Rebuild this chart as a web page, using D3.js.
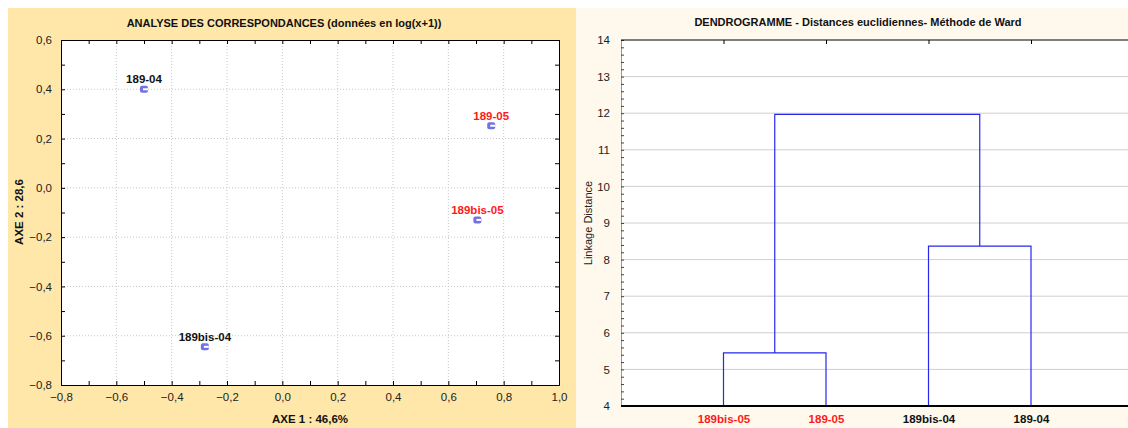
<!DOCTYPE html>
<html lang="fr">
<head>
<meta charset="UTF-8">
<script src="https://d3js.org/d3.v7.min.js"></script>
<title>AFC et dendrogramme</title>
<style>
  body { margin: 0; background: #fff; font-family: Arial, "Liberation Sans", sans-serif; }
  svg text { font-family: Arial, "Liberation Sans", sans-serif; }
</style>
</head>
<body>
<svg id="chart" width="1128" height="428"></svg>
<script>
// --- données AFC ---
const caNames = ["189-04", "189-05", "189bis-05", "189bis-04"];
const axe1 = [-0.50, 0.755, 0.705, -0.28];
const axe2 = [0.40, 0.252, -0.13, -0.645];
const highlighted = ["189-05", "189bis-05"];
const xTicks = [-0.8, -0.6, -0.4, -0.2, 0.0, 0.2, 0.4, 0.6, 0.8, 1.0];
const yTicks = [-0.8, -0.6, -0.4, -0.2, 0.0, 0.2, 0.4, 0.6];

// --- données dendrogramme ---
const leaves = ["189bis-05", "189-05", "189bis-04", "189-04"];
// fusions : enfants (nom de feuille ou index de fusion) et hauteur
const mergeLeft = ["189bis-05", "189bis-04", 0];
const mergeRight = ["189-05", "189-04", 1];
const mergeHeight = [5.45, 8.37, 11.97];
const distTicks = [4, 5, 6, 7, 8, 9, 10, 11, 12, 13, 14];

const svg = d3.select("#chart");
const fmt = v => d3.format(".1f")(Math.abs(v) < 1e-9 ? 0 : v).replace(".", ",");

// fonds des deux panneaux
svg.append("rect").attr("x", 8).attr("y", 8).attr("width", 568).attr("height", 420).attr("fill", "#fee7a9");
svg.append("rect").attr("x", 576).attr("y", 8).attr("width", 552).attr("height", 420).attr("fill", "#fff9ed");

// ================= AFC =================
const x = d3.scaleLinear().domain([-0.8, 1.0]).range([61, 559]);
const y = d3.scaleLinear().domain([-0.8, 0.6]).range([385, 40]);

const left = svg.append("g");
left.append("rect").attr("x", 62).attr("y", 41).attr("width", x(1.0) - x(-0.8)).attr("height", y(-0.8) - y(0.6))
    .attr("fill", "#9a9a9a");
left.append("rect").attr("x", x(-0.8)).attr("y", y(0.6)).attr("width", x(1.0) - x(-0.8)).attr("height", y(-0.8) - y(0.6))
    .attr("fill", "#fff");

// grille pointillée
left.append("g").selectAll("line").data(xTicks.slice(1, -1)).join("line")
    .attr("x1", d => x(d)).attr("x2", d => x(d)).attr("y1", y(0.6)).attr("y2", y(-0.8))
    .attr("stroke", "#c8c8c8").attr("stroke-dasharray", "1,2");
left.append("g").selectAll("line").data(yTicks.slice(1, -1)).join("line")
    .attr("y1", d => y(d)).attr("y2", d => y(d)).attr("x1", x(-0.8)).attr("x2", x(1.0))
    .attr("stroke", "#c8c8c8").attr("stroke-dasharray", "1,2");

const minorX = d3.range(-8, 11).map(i => i / 10);
const minorY = d3.range(-8, 7).map(i => i / 10);
const isMajor = v => Math.abs(Math.round(v * 10)) % 2 === 0;

function styleAxis(g) {
  g.select(".domain").attr("stroke", "#000");
  g.selectAll(".tick line").attr("stroke", "#000");
  g.selectAll(".tick text").attr("fill", "#222").attr("font-size", 11.5);
}

left.append("g").attr("transform", `translate(0,${y(-0.8)})`)
    .call(d3.axisBottom(x).tickValues(minorX).tickSizeInner(-4).tickSizeOuter(0).tickPadding(8)
      .tickFormat(d => isMajor(d) ? fmt(d) : ""))
    .call(styleAxis);
left.append("g").attr("transform", `translate(0,${y(0.6)})`)
    .call(d3.axisTop(x).tickValues(minorX).tickSizeInner(-4).tickSizeOuter(0).tickFormat(""))
    .call(styleAxis);
left.append("g").attr("transform", `translate(${x(-0.8)},0)`)
    .call(d3.axisLeft(y).tickValues(minorY).tickSizeInner(-4).tickSizeOuter(0).tickPadding(9)
      .tickFormat(d => isMajor(d) ? fmt(d) : ""))
    .call(styleAxis);
left.append("g").attr("transform", `translate(${x(1.0)},0)`)
    .call(d3.axisRight(y).tickValues(minorY).tickSizeInner(-4).tickSizeOuter(0).tickFormat(""))
    .call(styleAxis);

// points
const pts = left.append("g").selectAll("g").data(caNames).join("g")
    .attr("transform", (d, i) => `translate(${x(axe1[i])},${y(axe2[i])})`);
pts.append("rect").attr("x", -4).attr("y", -3.5).attr("width", 8).attr("height", 7).attr("rx", 2)
    .attr("fill", "#7272e4");
pts.append("rect").attr("x", -1).attr("y", -1).attr("width", 5).attr("height", 2).attr("fill", "#fff");
pts.append("text").attr("y", -6).attr("text-anchor", "middle")
    .attr("font-size", 11.5).attr("font-weight", "bold")
    .attr("fill", d => highlighted.includes(d) ? "#ff1a1a" : "#111")
    .text(d => d);

left.append("text").attr("x", 284).attr("y", 27).attr("text-anchor", "middle")
    .attr("font-size", 11).attr("font-weight", "bold").attr("fill", "#111")
    .text("ANALYSE DES CORRESPONDANCES (données en log(x+1))");
left.append("text").attr("x", 310).attr("y", 423).attr("text-anchor", "middle")
    .attr("font-size", 11.5).attr("font-weight", "bold").attr("fill", "#111")
    .text("AXE 1 : 46,6%");
left.append("text").attr("transform", "translate(23,212) rotate(-90)").attr("text-anchor", "middle")
    .attr("font-size", 11.5).attr("font-weight", "bold").attr("fill", "#111")
    .text("AXE 2 : 28,6");

// ================= Dendrogramme =================
const xd = d3.scalePoint().domain(leaves).range([621, 1133.5]).padding(1);
const yd = d3.scaleLinear().domain([4, 14]).range([406, 40]);

const right = svg.append("g");
right.append("rect").attr("x", xd.range()[0]).attr("y", yd(14)).attr("width", 520).attr("height", yd(4) - yd(14))
    .attr("fill", "#fff");

right.append("g").selectAll("line").data(distTicks.slice(1, -1)).join("line")
    .attr("x1", xd.range()[0]).attr("x2", 1128).attr("y1", d => yd(d)).attr("y2", d => yd(d))
    .attr("stroke", "#cfcfcf");

// axe gauche
const minorD = d3.range(20, 71).map(i => i / 5);
right.append("g").attr("transform", `translate(${xd.range()[0]},0)`)
    .call(d3.axisLeft(yd).tickValues(minorD).tickSizeInner(-3).tickSizeOuter(0).tickPadding(11)
      .tickFormat(d => Number.isInteger(d) ? d : ""))
    .call(g => {
      g.select(".domain").attr("stroke", "#999");
      g.selectAll(".tick line").attr("stroke", "#444");
      g.selectAll(".tick text").attr("fill", "#222").attr("font-size", 11.5);
    });
// axe haut
right.append("g").attr("transform", `translate(0,${yd(14)})`)
    .call(d3.axisTop(xd).tickSizeInner(-4).tickSizeOuter(0).tickFormat(""))
    .call(g => {
      g.select(".domain").attr("stroke", "#000").attr("d", `M${xd.range()[0]},0H1128`);
      g.selectAll(".tick line").attr("stroke", "#000");
    });

// liens
const nodeX = [], nodeH = [];
const childX = c => typeof c === "number" ? nodeX[c] : xd(c);
const childH = c => typeof c === "number" ? nodeH[c] : 4;
const links = right.append("g").attr("fill", "none").attr("stroke", "#2727f0").attr("stroke-width", 1.2);
mergeHeight.forEach((h, i) => {
  const xa = childX(mergeLeft[i]), xb = childX(mergeRight[i]);
  const ha = childH(mergeLeft[i]), hb = childH(mergeRight[i]);
  links.append("path")
    .attr("d", `M${xa},${yd(ha)}V${yd(h)}H${xb}V${yd(hb)}`);
  nodeX[i] = (xa + xb) / 2;
  nodeH[i] = h;
});

// axe bas
right.append("g").attr("transform", `translate(0,${yd(4)})`)
    .call(d3.axisBottom(xd).tickSize(0).tickPadding(9))
    .call(g => {
      g.select(".domain").attr("stroke", "#000").attr("stroke-width", 2).attr("d", `M${xd.range()[0]},0H1128`);
      g.selectAll(".tick text").attr("font-size", 11.5).attr("font-weight", "bold")
        .attr("fill", d => highlighted.includes(d) ? "#ff1a1a" : "#111");
    });

right.append("text").attr("x", 858).attr("y", 26).attr("text-anchor", "middle")
    .attr("font-size", 11).attr("font-weight", "bold").attr("fill", "#111")
    .text("DENDROGRAMME - Distances euclidiennes- Méthode de Ward");
right.append("text").attr("transform", "translate(592,223) rotate(-90)").attr("text-anchor", "middle")
    .attr("font-size", 11).attr("fill", "#222")
    .text("Linkage Distance");
</script>
</body>
</html>
